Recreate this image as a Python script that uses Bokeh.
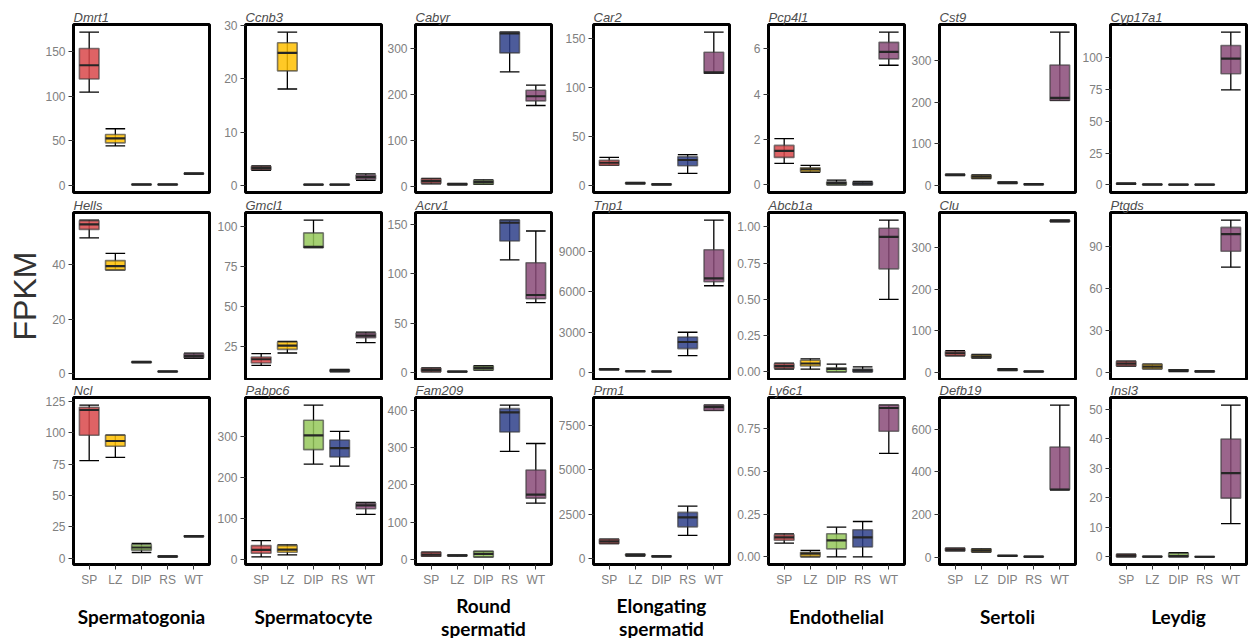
from bokeh.plotting import figure
from bokeh.layouts import row, column
from bokeh.models import Range1d, FixedTicker, ColumnDataSource, Label
from bokeh.embed import file_html
from bokeh.resources import INLINE

# ---------------- data ----------------
cell_types = ["SP", "LZ", "DIP", "RS", "WT"]
cell_colors = ["#D9484A", "#FFBF00", "#95C85A", "#2E3F8A", "#8A4A78"]
column_titles = ["Spermatogonia", "Spermatocyte", "Round\nspermatid",
                 "Elongating\nspermatid", "Endothelial", "Sertoli", "Leydig"]
y_title = "FPKM"

# each entry: (lower whisker, Q1, median, Q3, upper whisker) for SP, LZ, DIP, RS, WT
dmrt1 = [(104.8, 119.5, 135, 153.9, 172.3), (44.2, 47.6, 52.6, 57, 63.5), (0.3, 0.5, 0.7, 0.9, 1.1), (0.3, 0.5, 0.7, 0.9, 1.1), (12.3, 12.6, 12.9, 13.2, 13.5)]
ccnb3 = [(2.8, 2.9, 3.2, 3.5, 3.6), (18.1, 21.5, 24.9, 26.8, 28.8), (0.05, 0.08, 0.1, 0.12, 0.15), (0.05, 0.08, 0.1, 0.12, 0.15), (0.9, 1.1, 1.5, 1.9, 2.1)]
cabyr = [(6, 7.4, 12, 17, 18), (4, 4.5, 5.5, 6.5, 7), (5, 5.5, 10, 14, 15), (249, 290, 332, 335, 335), (176, 186, 196, 209, 220)]
car2 = [(21, 21, 23.5, 26, 29), (2, 2.3, 2.8, 3.2, 3.5), (1, 1.2, 1.5, 1.8, 2), (12.7, 20.4, 26.3, 29.7, 31.7), (114.5, 114.5, 115.5, 136, 156.4)]
pcp4l1 = [(0.95, 1.21, 1.5, 1.74, 2.04), (0.55, 0.58, 0.68, 0.75, 0.86), (0, 0.01, 0.08, 0.13, 0.21), (0, 0.01, 0.06, 0.12, 0.15), (5.27, 5.55, 5.86, 6.28, 6.73)]
cst9 = [(23, 24, 25, 26, 27), (16, 17, 21, 24, 25), (4, 5, 6, 7, 8), (1, 2, 2.5, 3, 4), (204, 204, 210, 289, 368)]
cyp17a1 = [(0.6, 0.8, 1, 1.2, 1.4), (0.2, 0.3, 0.4, 0.5, 0.6), (0.1, 0.2, 0.3, 0.4, 0.5), (0.1, 0.2, 0.3, 0.4, 0.5), (74.8, 87.5, 99.4, 109.8, 120.3)]

hells = [(49.7, 52.8, 54.6, 56, 56.2), (38, 38, 39.4, 41.4, 44), (4.1, 4.2, 4.3, 4.4, 4.5), (0.7, 0.8, 0.85, 0.9, 1.0), (5.7, 5.9, 6.5, 7.3, 7.6)]
gmcl1 = [(13.3, 14.8, 17.1, 18.5, 20.6), (21, 23.3, 25.6, 27.9, 28.3), (86.9, 86.9, 87.3, 96, 104), (9.2, 9.6, 10, 10.4, 10.8), (27.5, 30.6, 31.9, 33.5, 34.1)]
acrv1 = [(1, 1.5, 3, 4.7, 5), (1, 1.1, 1.3, 1.5, 1.6), (2.7, 3, 5, 7, 7.2), (114, 133, 151.3, 154, 154), (70.8, 74.8, 78.5, 111, 143)]
tnp1 = [(200, 220, 250, 280, 300), (70, 85, 100, 115, 130), (50, 65, 80, 95, 110), (1260, 1780, 2270, 2640, 2990), (6440, 6740, 6990, 9110, 11310)]
abcb1a = [(0.02, 0.025, 0.04, 0.056, 0.06), (0.019, 0.041, 0.058, 0.08, 0.09), (0, 0.001, 0.02, 0.028, 0.053), (0, 0.001, 0.01, 0.019, 0.035), (0.5, 0.71, 0.93, 0.99, 1.046)]
clu = [(40, 40.4, 46, 50, 52.5), (34, 35, 38, 42, 43), (4, 5, 6.5, 8, 9), (1, 1.5, 2, 2.5, 3), (363, 364, 365.6, 366.5, 367)]
ptgds = [(4.5, 4.6, 6.2, 7.8, 8), (2.5, 2.6, 4, 5.7, 5.9), (0.5, 0.9, 1.4, 1.8, 2), (0.3, 0.5, 0.7, 0.9, 1), (75, 86.4, 98.6, 103.4, 108.6)]

ncl = [(77.8, 98, 118.1, 120.2, 122), (80.4, 89.2, 93.4, 98, 98), (4.5, 6.4, 8.5, 10.9, 11.7), (1, 1.1, 1.3, 1.6, 1.8), (17, 17.2, 17.5, 17.8, 18)]
pabpc6 = [(6.5, 15.4, 23.6, 34, 46.3), (11.4, 17.9, 24.4, 34, 35.8), (232.4, 267.5, 302.4, 339, 376), (227.6, 249.6, 271.5, 291, 312), (109.8, 123.6, 131.7, 137.4, 139)]
fam209 = [(9, 9, 13, 19.5, 19.5), (9, 10, 11.5, 12, 12), (7, 7, 15, 22, 22), (290, 342, 394.7, 404.5, 414), (151, 164.5, 174, 240, 311)]
prm1 = [(850, 860, 970, 1090, 1100), (150, 180, 210, 240, 260), (100, 120, 135, 150, 160), (1310, 1790, 2320, 2600, 2950), (8330, 8330, 8520, 8630, 8630)]
ly6c1 = [(0.081, 0.097, 0.114, 0.13, 0.135), (0, 0.003, 0.019, 0.027, 0.038), (0, 0.047, 0.097, 0.135, 0.174), (0, 0.058, 0.114, 0.159, 0.207), (0.605, 0.734, 0.87, 0.887, 0.887)]
defb19 = [(30, 31, 36, 42, 43), (25, 26, 33, 39, 40), (5, 6, 7.5, 8.5, 9), (2, 2.5, 3, 3.5, 4), (317, 317, 317, 516, 712)]
insl3 = [(0, 0.05, 0.4, 0.8, 0.9), (0, 0.05, 0.1, 0.15, 0.2), (0, 0.05, 0.3, 1.2, 1.4), (0, 0.02, 0.05, 0.08, 0.1), (11.3, 19.9, 28.4, 39.9, 51.4)]

# y tick values per panel
ticks_dmrt1 = [0, 50, 100, 150]
ticks_ccnb3 = [0, 10, 20, 30]
ticks_cabyr = [0, 100, 200, 300]
ticks_car2 = [0, 50, 100, 150]
ticks_pcp4l1 = [0, 2, 4, 6]
ticks_cst9 = [0, 100, 200, 300]
ticks_cyp17a1 = [0, 25, 50, 75, 100]
ticks_hells = [0, 20, 40]
ticks_gmcl1 = [25, 50, 75, 100]
ticks_acrv1 = [0, 50, 100, 150]
ticks_tnp1 = [0, 3000, 6000, 9000]
ticks_abcb1a = [0, 0.25, 0.5, 0.75, 1.0]
ticks_clu = [0, 100, 200, 300]
ticks_ptgds = [0, 30, 60, 90]
ticks_ncl = [0, 25, 50, 75, 100, 125]
ticks_pabpc6 = [0, 100, 200, 300]
ticks_fam209 = [0, 100, 200, 300, 400]
ticks_prm1 = [0, 2500, 5000, 7500]
ticks_ly6c1 = [0, 0.25, 0.5, 0.75]
ticks_defb19 = [0, 200, 400, 600]
ticks_insl3 = [0, 10, 20, 30, 40, 50]

panels = [
    [("Dmrt1", dmrt1, ticks_dmrt1), ("Ccnb3", ccnb3, ticks_ccnb3), ("Cabyr", cabyr, ticks_cabyr),
     ("Car2", car2, ticks_car2), ("Pcp4l1", pcp4l1, ticks_pcp4l1), ("Cst9", cst9, ticks_cst9),
     ("Cyp17a1", cyp17a1, ticks_cyp17a1)],
    [("Hells", hells, ticks_hells), ("Gmcl1", gmcl1, ticks_gmcl1), ("Acrv1", acrv1, ticks_acrv1),
     ("Tnp1", tnp1, ticks_tnp1), ("Abcb1a", abcb1a, ticks_abcb1a), ("Clu", clu, ticks_clu),
     ("Ptgds", ptgds, ticks_ptgds)],
    [("Ncl", ncl, ticks_ncl), ("Pabpc6", pabpc6, ticks_pabpc6), ("Fam209", fam209, ticks_fam209),
     ("Prm1", prm1, ticks_prm1), ("Ly6c1", ly6c1, ticks_ly6c1), ("Defb19", defb19, ticks_defb19),
     ("Insl3", insl3, ticks_insl3)],
]

# ---------------- layout / style ----------------
FRAME_W = 136
RIGHT_B = 3
LEFT_B = [73, 33, 31, 39, 36, 32, 32]
ROW_GEOM = [(24, 168, 2), (18, 167, 1), (17, 167, 30)]  # top border, frame height, bottom border
LABEL_ROW_H = 44
BOX_W = 0.75
TICK_FONT = "Liberation Sans"
TICK_COLOR = "#808080"


def make_panel(gene, stats, ticks, ci, ri):
    lo = [s[0] for s in stats]
    q1 = [s[1] for s in stats]
    med = [s[2] for s in stats]
    q3 = [s[3] for s in stats]
    hi = [s[4] for s in stats]
    ymin, ymax = min(lo), max(hi)
    pad = 0.05 * (ymax - ymin)
    xs = [i + 1 for i in range(len(cell_types))]
    top, fh, bottom = ROW_GEOM[ri]
    last = ri == 2
    p = figure(frame_width=FRAME_W, frame_height=fh,
               x_range=Range1d(0.4, 5.6), y_range=Range1d(ymin - pad, ymax + pad),
               output_backend="svg", toolbar_location=None,
               x_axis_location="below" if last else None,
               min_border_left=LEFT_B[ci], min_border_right=RIGHT_B,
               min_border_top=top, min_border_bottom=bottom,
               title=gene)
    p.title.text_font = "Liberation Sans"
    p.title.text_font_style = "italic"
    p.title.text_font_size = "13px"
    p.title.text_color = "#4d4d4d"
    p.title.align = "left"
    p.title.standoff = 0
    p.title.offset = 0
    p.outline_line_color = "black"
    p.outline_line_width = 3
    p.outline_line_alpha = 1
    p.xgrid.visible = False
    p.ygrid.visible = False
    p.background_fill_color = "white"
    p.border_fill_color = "white"

    ya = p.yaxis[0]
    ya.ticker = FixedTicker(ticks=ticks)
    if any(t != int(t) for t in ticks):
        ya.major_label_overrides = {t: "%.2f" % t for t in ticks}
    ya.axis_line_color = None
    ya.major_tick_out = 5
    ya.major_tick_in = 0
    ya.minor_tick_line_color = None
    ya.major_tick_line_color = "#333333"
    ya.major_label_standoff = 3
    ya.major_label_text_font = TICK_FONT
    ya.major_label_text_font_size = "12px"
    ya.major_label_text_color = TICK_COLOR
    if ci == 0 and ri == 1:
        ya.axis_label = y_title
        ya.axis_label_text_font = "Liberation Sans"
        ya.axis_label_text_font_style = "normal"
        ya.axis_label_text_font_size = "32px"
        ya.axis_label_text_color = "#333333"
        ya.axis_label_standoff = 6

    if last:
        xa = p.xaxis[0]
        xa.ticker = FixedTicker(ticks=xs)
        xa.major_label_overrides = {x: c for x, c in zip(xs, cell_types)}
        xa.axis_line_color = None
        xa.major_tick_out = 5
        xa.major_tick_in = 0
        xa.minor_tick_line_color = None
        xa.major_tick_line_color = "#333333"
        xa.major_label_standoff = 3
        xa.major_label_text_font = TICK_FONT
        xa.major_label_text_font_size = "12px"
        xa.major_label_text_color = TICK_COLOR

    src = ColumnDataSource(dict(
        x=xs, lo=lo, q1=q1, med=med, q3=q3, hi=hi, color=cell_colors,
        xl=[x - BOX_W / 2 for x in xs], xr=[x + BOX_W / 2 for x in xs]))
    p.segment(x0="x", y0="lo", x1="x", y1="hi", line_color="black", line_width=1.3, source=src)
    p.segment(x0="xl", y0="lo", x1="xr", y1="lo", line_color="black", line_width=1.3, source=src)
    p.segment(x0="xl", y0="hi", x1="xr", y1="hi", line_color="black", line_width=1.3, source=src)
    p.vbar(x="x", width=BOX_W, bottom="q1", top="q3", fill_color="color", fill_alpha=0.85,
           line_color="#3a3a3a", line_alpha=0.65, line_width=1.6, source=src)
    p.segment(x0="xl", y0="med", x1="xr", y1="med", line_color="#262626", line_width=2.2, source=src)
    return p


rows = []
for ri, prow in enumerate(panels):
    figs = [make_panel(g, s, t, ci, ri) for ci, (g, s, t) in enumerate(prow)]
    rows.append(row(*figs, spacing=0))

# column titles row
label_figs = []
for ci, title in enumerate(column_titles):
    w = LEFT_B[ci] + FRAME_W + RIGHT_B
    lf = figure(width=w, height=LABEL_ROW_H, x_range=Range1d(0, w), y_range=Range1d(0, LABEL_ROW_H),
                output_backend="svg", toolbar_location=None, x_axis_location=None, y_axis_location=None,
                min_border=0)
    lf.outline_line_color = None
    lf.xgrid.visible = False
    lf.ygrid.visible = False
    lf.add_layout(Label(x=LEFT_B[ci] + FRAME_W / 2, y=LABEL_ROW_H / 2, text=title,
                        text_align="center", text_baseline="middle", text_font="Lato",
                        text_font_style="bold", text_font_size="19px", text_color="black",
                        text_line_height=1.0))
    label_figs.append(lf)
rows.append(row(*label_figs, spacing=0))

layout = column(*rows, spacing=0)

open("out.html", "w").write(file_html(layout, INLINE))
